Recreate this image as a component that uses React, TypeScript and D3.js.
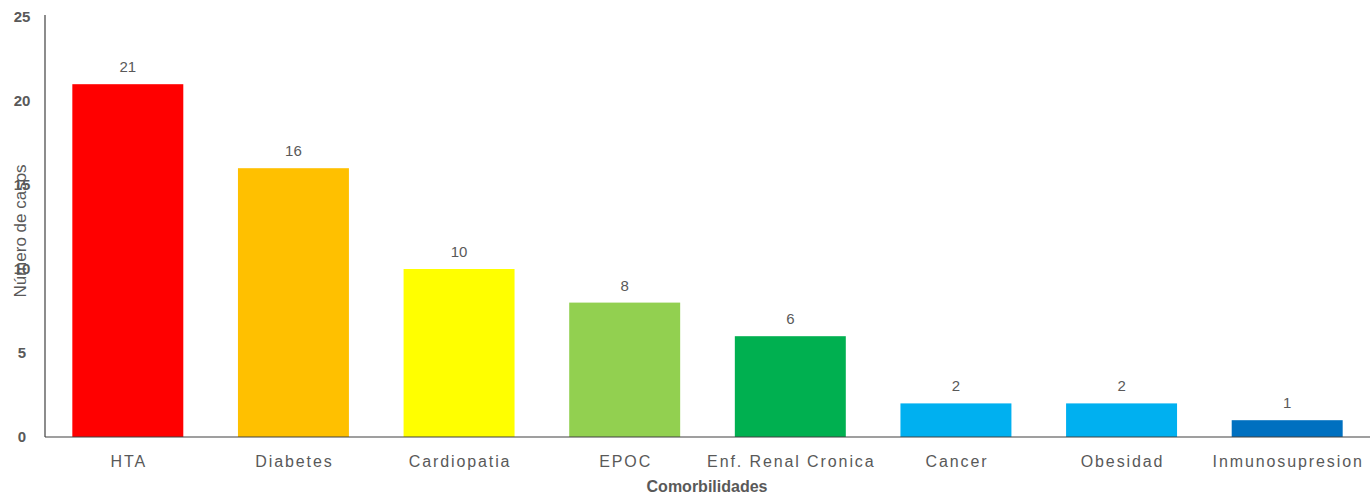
import React, { useEffect } from "react";
import * as d3 from "d3";

const categories = ["HTA", "Diabetes", "Cardiopatia", "EPOC", "Enf. Renal Cronica", "Cancer", "Obesidad", "Inmunosupresion"];
const values = [21, 16, 10, 8, 6, 2, 2, 1];
const colors = ["#FF0000", "#FFC000", "#FFFF00", "#92D050", "#00B050", "#00B0F0", "#00B0F0", "#0070C0"];
const yTicks = [0, 5, 10, 15, 20, 25];
const xTitle = "Comorbilidades";
const yTitle = "Número de casos";

const W = 1372, H = 500;
const left = 45, right = 1370, top = 17, bottom = 437;

export default function App() {
  useEffect(() => {
    document.body.style.margin = "0";
  }, []);
  const x = d3.scaleBand<string>().domain(categories).range([left, right]).paddingInner(0.33).paddingOuter(0.165);
  const y = d3.scaleLinear().domain([0, 25]).range([bottom, top]);
  const font = "'Liberation Sans', Arial, sans-serif";
  return (
    <svg width={W} height={H} style={{ display: "block", background: "#fff", fontFamily: font }}>
      {categories.map((c, i) => (
        <g key={c}>
          <rect x={x(c)} y={y(values[i])} width={x.bandwidth()} height={bottom - y(values[i])} fill={colors[i]} />
          <text x={(x(c) as number) + x.bandwidth() / 2} y={y(values[i]) - 12} textAnchor="middle" fontSize={15} fill="#595959">{values[i]}</text>
          <text x={(x(c) as number) + x.bandwidth() / 2 + 1} y={467} textAnchor="middle" fontSize={16} fill="#595959" letterSpacing={1.9}>{c}</text>
        </g>
      ))}
      <line x1={left} x2={left} y1={15} y2={bottom} stroke="#404040" strokeWidth={1.2} />
      <line x1={left} x2={right} y1={bottom} y2={bottom} stroke="#404040" strokeWidth={1.2} />
      {yTicks.map((t) => (
        <text key={t} x={22} y={y(t) + 5} textAnchor="middle" fontSize={15} fontWeight="bold" fill="#595959">{t}</text>
      ))}
      <text transform={`translate(26, ${231}) rotate(-90)`} textAnchor="middle" fontSize={17} fill="#595959">{yTitle}</text>
      <text x={707} y={492} textAnchor="middle" fontSize={16} fontWeight="bold" fill="#595959">{xTitle}</text>
    </svg>
  );
}
